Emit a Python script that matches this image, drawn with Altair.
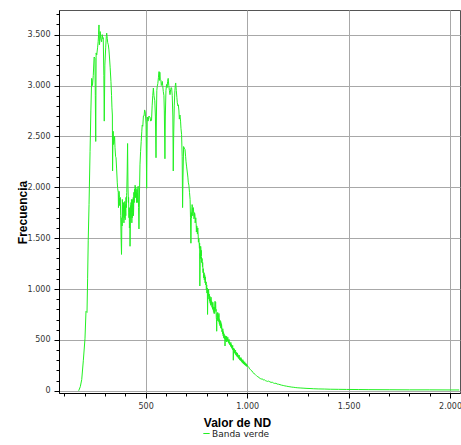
import altair as alt
import pandas as pd

# Histogram of the green band: digital number (ND) vs pixel count
nd = [
    170, 178, 185, 193, 201, 206, 211, 214, 217, 221, 226, 230, 234, 238, 242, 246, 250, 252, 254, 256,
    259, 263, 266, 268, 270, 272, 274, 276, 279, 283, 286, 289, 291, 294, 296, 299, 303, 306, 308, 311,
    313, 316, 319, 321, 325, 329, 332, 334, 336, 337, 339, 340, 342, 345, 347, 349, 352, 354, 357, 360,
    362, 365, 368, 371, 374, 377, 379, 381, 383, 386, 389, 392, 395, 398, 401, 404, 407, 409, 411, 413,
    415, 418, 420, 423, 425, 428, 431, 434, 437, 440, 443, 446, 449, 452, 455, 458, 461, 463, 465, 467,
    470, 472, 475, 478, 481, 483, 486, 489, 492, 495, 498, 502, 505, 508, 512, 516, 521, 525, 529, 532,
    535, 538, 541, 545, 548, 551, 553, 555, 557, 560, 563, 566, 568, 570, 572, 575, 577, 579, 582, 584,
    587, 590, 592, 595, 597, 600, 603, 606, 608, 611, 614, 617, 620, 623, 626, 628, 631, 634, 636, 638,
    641, 644, 646, 648, 651, 654, 656, 659, 661, 664, 666, 669, 672, 674, 677, 680, 682, 684, 687, 690,
    694, 697, 699, 702, 705, 708, 710, 713, 716, 719, 721, 723, 725, 728, 731, 734, 737, 740, 743, 746,
    749, 751, 754, 756, 759, 761, 764, 767, 769, 772, 775, 777, 779, 782, 785, 787, 790, 792, 795, 797,
    800, 803, 805, 807, 810, 813, 816, 819, 822, 825, 828, 831, 833, 836, 839, 842, 845, 847, 850, 852,
    855, 858, 861, 864, 867, 870, 872, 874, 877, 880, 883, 886, 889, 891, 893, 896, 899, 902, 905, 908,
    911, 914, 917, 920, 923, 926, 929, 932, 934, 937, 940, 943, 946, 949, 952, 955, 958, 961, 964, 967,
    970, 973, 976, 979, 982, 985, 988, 991, 994, 997, 1000, 1004, 1008, 1012, 1016, 1020, 1024, 1028, 1032, 1036,
    1040, 1045, 1050, 1055, 1060, 1065, 1070, 1075, 1080, 1085, 1090, 1095, 1100, 1106, 1112, 1118, 1124, 1130, 1136, 1142,
    1148, 1155, 1162, 1170, 1178, 1186, 1194, 1202, 1211, 1220, 1230, 1240, 1250, 1265, 1280, 1295, 1310, 1326, 1350, 1380,
    1410, 1450, 1490, 1550, 1600, 1700, 1800, 1900, 2000, 2045,
]
freq = [
    0, 40, 110, 300, 510, 780, 770, 1100, 1480, 1830, 2350, 2750, 3070, 3000, 3100, 3280, 3270, 2900, 2450, 3320,
    3300, 3370, 3430, 3500, 3595, 3400, 3430, 3530, 3460, 3430, 3500, 3460, 3470, 3100, 2650, 3200, 3370, 3480, 3515, 3460,
    3420, 3400, 3350, 3300, 3180, 3040, 2900, 2780, 2710, 2160, 2500, 2550, 2420, 2450, 2500, 2390, 2300, 2290, 2180, 2050,
    1990, 1950, 1930, 1900, 1880, 1720, 1500, 1340, 1700, 1830, 1810, 1700, 1780, 1750, 1830, 1880, 1950, 2150, 2430, 2000,
    1850, 1700, 1600, 1420, 1700, 1850, 1780, 1700, 1850, 1720, 1900, 1950, 2000, 1990, 1850, 1900, 1980, 2010, 1800, 1590,
    2000, 2220, 2350, 2450, 2550, 2610, 2600, 2700, 2700, 2760, 2740, 2620, 1990, 2690, 2650, 2700, 2690, 2650, 2660, 2800,
    2900, 2975, 2900, 2850, 2700, 2290, 2700, 2950, 2990, 3020, 3080, 3137, 3050, 3130, 3060, 3055, 3000, 3010, 3040, 3000,
    2940, 2900, 2750, 2280, 2700, 2950, 3010, 2980, 3040, 3070, 3000, 2950, 2910, 2960, 2980, 2975, 2900, 2700, 2160, 2500,
    2800, 2950, 3000, 3025, 2950, 2880, 2830, 2800, 2810, 2750, 2670, 2710, 2650, 2580, 2520, 2300, 1800, 2100, 2400, 2385,
    2370, 2300, 2250, 2200, 2150, 2100, 2050, 2020, 1950, 1880, 1700, 1450, 1750, 1810, 1800, 1790, 1740, 1700, 1730, 1680,
    1640, 1600, 1590, 1580, 1520, 1480, 1440, 1030, 1350, 1400, 1320, 1280, 1270, 1200, 1150, 1130, 1120, 1100, 1080, 1050,
    1020, 990, 750, 950, 1000, 950, 930, 900, 920, 880, 860, 870, 830, 800, 820, 880, 870, 800, 585, 760,
    770, 740, 760, 700, 690, 680, 660, 650, 600, 610, 580, 560, 540, 440, 540, 530, 536, 520, 525, 500,
    505, 480, 470, 475, 455, 440, 445, 300, 420, 410, 395, 400, 380, 370, 372, 355, 345, 350, 330, 320,
    325, 310, 300, 305, 290, 280, 285, 270, 268, 262, 255, 240, 232, 215, 210, 200, 195, 180, 175, 165,
    160, 150, 140, 138, 125, 120, 115, 118, 105, 108, 100, 96, 92, 95, 88, 82, 84, 76, 72, 74,
    66, 64, 60, 55, 52, 48, 45, 42, 39, 36, 34, 31, 29, 27, 25, 23, 22, 20, 18, 17,
    15, 14, 13, 12, 11, 10, 9, 9, 8, 8,
]

# Single-bin readings that fill in the ragged stretches of the curve
nd_fine = [
    366, 369, 372, 375, 384, 385, 387, 390, 393, 394, 396, 397, 399, 400, 402, 403, 405, 406, 416, 417,
    419, 421, 422, 424, 426, 427, 429, 430, 432, 433, 435, 436, 438, 439, 441, 442, 444, 445, 447, 448,
    450, 451, 453, 454, 456, 457, 459, 460,
    726, 729, 732, 735, 738, 741, 744, 747, 750, 752, 755, 757, 760, 762, 765, 766, 770, 771, 773, 774,
    776, 778, 780, 781, 783, 784, 786, 788, 789, 791, 793, 794, 796, 798, 799, 801, 802, 804, 806, 808,
    809, 811, 812, 814, 815, 817, 818, 820, 821, 823, 824, 826, 827, 829, 830, 832, 834, 835, 837, 838,
    840, 841, 843, 844, 846, 848, 849, 851, 853, 854, 856, 857, 859, 860, 862, 863, 865, 866, 868, 869,
    871, 873, 875, 876, 878, 879, 881, 882, 884, 885, 887, 888, 890, 892, 894, 895, 897, 898, 900,
    903, 904, 906, 907, 909, 910, 912, 913, 915, 916, 918, 919, 921, 922, 924, 925, 927, 928, 930, 931,
    933, 935, 936, 938, 939, 941, 942, 944, 945, 947, 948, 950, 951, 953, 954, 956, 957, 959, 960, 962,
    963, 965, 966, 968, 969, 971, 972, 974, 975, 977, 978, 980, 981, 983, 984, 986, 987, 989, 990, 992,
    993, 995, 996, 998, 999,
]
freq_fine = [
    1800, 1960, 1820, 1900, 1620, 1880, 1700, 1850, 1650, 1820, 1700, 1860, 1680, 1790, 1720, 1900, 1800, 1920, 1900, 1750,
    1800, 1650, 1780, 1560, 1820, 1700, 1760, 1880, 1650, 1820, 1750, 1880, 1760, 1900, 1800, 1950, 1850, 1980, 1900, 2020,
    1900, 2000, 1900, 1950, 1870, 1980, 1850, 1950,
    1700, 1830, 1720, 1800, 1690, 1750, 1650, 1700, 1560, 1620, 1540, 1600, 1460, 1500, 1400, 1450, 1300, 1420, 1330, 1380,
    1260, 1300, 1220, 1260, 1160, 1200, 1110, 1160, 1090, 1140, 1060, 1120, 1040, 1070, 990, 1040, 960, 1010, 900, 980,
    930, 960, 900, 940, 880, 920, 860, 900, 840, 900, 850, 870, 820, 850, 800, 840, 780, 820, 760, 800,
    760, 820, 800, 850, 780, 720, 700, 700, 730, 690, 740, 700, 720, 680, 720, 660, 690, 640, 670, 620,
    650, 610, 630, 580, 600, 560, 590, 540, 570, 520, 550, 510, 530, 500, 520, 490, 510, 480, 520,
    490, 510, 480, 500, 470, 490, 460, 475, 450, 465, 440, 460, 430, 450, 420, 445, 410, 430, 400, 420,
    390, 400, 380, 395, 370, 385, 360, 375, 350, 365, 345, 355, 335, 350, 330, 340, 320, 335, 315, 325,
    305, 318, 300, 312, 295, 305, 288, 298, 280, 292, 275, 285, 268, 278, 262, 272, 258, 268, 252, 262,
    248, 256, 242, 250, 238,
]
series_name = "Banda verde"

x_ticks = list(range(100, 2001, 100))
y_ticks = list(range(0, 3701, 100))

df = pd.DataFrame({"nd": nd + nd_fine, "freq": freq + freq_fine})
df = df.sort_values("nd").reset_index(drop=True)
df["serie"] = series_name

# Spanish thousands separator: 1,000 -> 1.000
fmt = "replace(format(datum.value, ','), ',', '.')"
major = "datum.value % 500 === 0"

common_axis = dict(
    labelFont="DejaVu Sans",
    labelFontSize=8,
    labelColor="#333333",
    titleFont="Liberation Sans",
    titleFontWeight="bold",
    titleColor="#000000",
    domainColor="#000000",
    tickColor="#000000",
    gridColor="#a8a8a8",
    gridWidth=1,
    gridOpacity={"condition": {"test": major, "value": 1}, "value": 0},
    tickSize={"condition": {"test": major, "value": 5}, "value": 3},
    labelExpr=f"{major} ? {fmt} : ''",
    labelOverlap=False,
)

x_axis = alt.Axis(
    values=x_ticks,
    title="Valor de ND",
    titleFontSize=12,
    titleAnchor="middle",
    titleX=178,
    titleY=33,
    titleBaseline="alphabetic",
    labelPadding=4,
    **common_axis,
)
y_axis = alt.Axis(
    values=y_ticks,
    title="Frecuencia",
    titleFontSize=12,
    titleX=-33,
    titleY=202,
    titleBaseline="alphabetic",
    labelPadding=4,
    **common_axis,
)

chart = (
    alt.Chart(df)
    .mark_line(strokeWidth=1, interpolate="linear")
    .encode(
        x=alt.X("nd:Q", scale=alt.Scale(domain=[73, 2049], nice=False, zero=False), axis=x_axis),
        y=alt.Y("freq:Q", scale=alt.Scale(domain=[-22, 3742], nice=False, zero=False), axis=y_axis),
        order=alt.Order("nd:Q"),
        color=alt.Color(
            "serie:N",
            scale=alt.Scale(domain=[series_name], range=["#22f022"]),
            legend=alt.Legend(
                title=None,
                orient="none",
                legendX=143,
                legendY=419,
                symbolType="stroke",
                symbolSize=40,
                symbolStrokeWidth=1,
                labelFont="DejaVu Sans",
                labelFontSize=9,
                labelColor="#222222",
                labelOffset=1,
                padding=0,
            ),
        ),
    )
    .properties(
        width=401,
        height=383,
        padding={"left": 59, "top": 10, "right": 1, "bottom": 52},
        autosize=alt.AutoSizeParams(type="none"),
        background="#ffffff",
    )
    .configure_view(stroke="#555555", strokeWidth=1)
)

chart.save("out.html", embed_options={"renderer": "svg", "actions": False})
